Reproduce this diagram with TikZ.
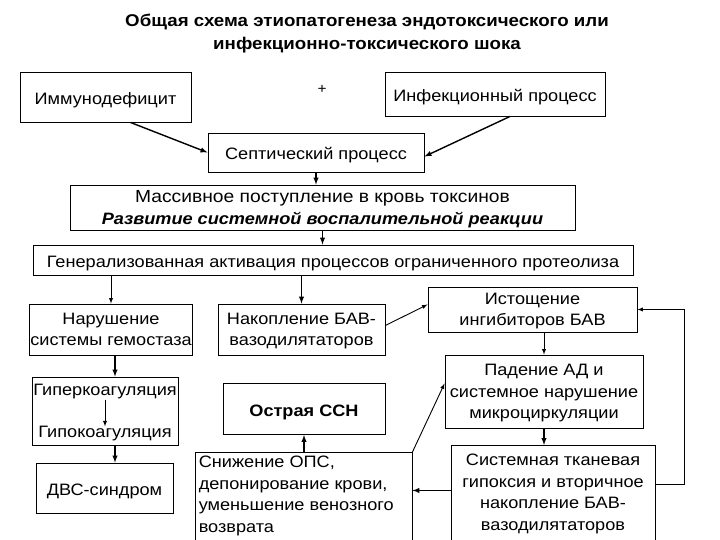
\documentclass[tikz,border=0pt]{standalone}
\usepackage{fontspec}
\setmainfont[FakeStretch=1.1]{Liberation Sans}
\begin{document}
\begin{tikzpicture}[x=1pt, y=-1pt,
    box/.style={draw=borderColour, line width=0.9pt, align=center, inner sep=1pt,
        font=\fontsize{16.5}{21.5}\selectfont, text depth=-3pt},
    onebox/.style={box, text height=19pt, text depth=4pt},
    txt/.style={inner sep=0pt, font=\fontsize{16.5}{21.5}\selectfont},
    arr/.style={draw=borderColour, line width=1.4pt, -latex},
    thinarr/.style={draw=borderColour, line width=0.9pt, -latex}]
    \definecolor{borderColour}{HTML}{000000}

    % Page frame
    \useasboundingbox (0,0) rectangle (720,540);
    \clip (0,0) rectangle (720,540);

    % Title
    \node[align=center, font=\fontsize{17}{23}\selectfont\bfseries] (title) at (367,34)
        {Общая схема этиопатогенеза эндотоксического или\\инфекционно-токсического шока};

    % Top row
    \node[onebox, minimum width=171, minimum height=50] (immun) at (105.5,97) {Иммунодефицит};
    \node[font=\fontsize{14}{16}\selectfont] (plus) at (322,89) {+};
    \node[onebox, minimum width=220, minimum height=44] (infect) at (495,94) {Инфекционный процесс};
    \node[onebox, minimum width=216, minimum height=39] (septic) at (316,152.5) {Септический процесс};

    % Middle boxes
    \node[box, minimum width=505, minimum height=45] (massive) at (322.5,207.5)
        {{\fontsize{17.5}{21.5}\selectfont Массивное поступление в кровь токсинов}\\\textbf{\textit{Развитие системной воспалительной реакции}}};
    \node[onebox, minimum width=600, minimum height=30] (general) at (333,260)
        {Генерализованная активация процессов ограниченного протеолиза};

    % Left column
    \node[box, minimum width=158, minimum height=51] (narush) at (111,329.5)
        {Нарушение\\системы гемостаза};
    \node[box, minimum width=146, minimum height=68] (hyper) at (105,411) {};
    \node[txt] (hyperTxt) at (105,392) {Гиперкоагуляция};
    \node[txt] (hypoTxt) at (105,434) {Гипокоагуляция};
    \node[onebox, minimum width=137, minimum height=50] (dvs) at (104.5,488) {ДВС-синдром};

    % Centre column
    \node[box, minimum width=167, minimum height=51] (nakop) at (301.5,329.5)
        {Накопление БАВ-\\вазодилятаторов};
    \node[onebox, minimum width=162, minimum height=51, font=\fontsize{16.5}{20}\selectfont\bfseries] (ostr) at (304,409)
        {Острая ССН};
    \node[box, minimum width=217, minimum height=110, anchor=north] (snizh) at (303.5,452) {};
    \node[txt, align=left, anchor=north west] (snizhTxt) at ([xshift=4pt,yshift=-4pt]snizh.north west)
        {Снижение ОПС,\\депонирование крови,\\уменьшение венозного\\возврата};

    % Right column
    \node[box, minimum width=209, minimum height=45] (istosh) at (532.5,309.5)
        {Истощение\\ингибиторов БАВ};
    \node[box, minimum width=198, minimum height=73] (padenie) at (544,391.5)
        {Падение АД и\\системное нарушение\\микроциркуляции};
    \node[box, minimum width=204, minimum height=110, anchor=north] (sistem) at (553,445) {};
    \node[txt, align=center, anchor=north] (sistemTxt) at ([yshift=-9pt]sistem.north)
        {Системная тканевая\\гипоксия и вторичное\\накопление БАВ-\\вазодилятаторов};

    % Connectors
    \draw[arr] ([xshift=25pt]immun.south) -- (septic.west);
    \draw[arr] ([xshift=15pt]infect.south) -- ([yshift=-4pt]septic.east);
    \draw[arr] (septic.south) -- (septic.south |- massive.north);
    \draw[arr] (massive.south) -- (massive.south |- general.north);
    \draw[thinarr] (general.south -| narush.north) -- (narush.north);
    \draw[arr] (general.south -| nakop.north) -- (nakop.north);
    \draw[thinarr] ([yshift=4pt]nakop.east) -- ([yshift=5pt]istosh.west);
    \draw[thinarr] (istosh.south -| padenie.north) -- (padenie.north);
    \draw[arr] (padenie.south) -- (padenie.south |- sistem.north);
    \draw[arr] ([xshift=4pt]narush.south) -- ([xshift=4pt]narush.south |- hyper.north);
    \draw[thinarr] (hyperTxt.south) -- (hypoTxt.north);
    \draw[arr] ([xshift=10pt]hyper.south) -- ([xshift=10pt]hyper.south |- dvs.north);
    \draw[arr] (ostr.south |- snizh.north) -- (ostr.south);
    \draw[thinarr] (snizh.north east) -- ([yshift=8pt]padenie.west);
    \draw[arr] ([yshift=10pt]sistem.west) -- ([yshift=10pt]sistem.west -| snizh.east);
    \draw[thinarr] ([yshift=16pt]sistem.east) -- ++(29,0) |- (istosh.east);

\end{tikzpicture}
\end{document}
